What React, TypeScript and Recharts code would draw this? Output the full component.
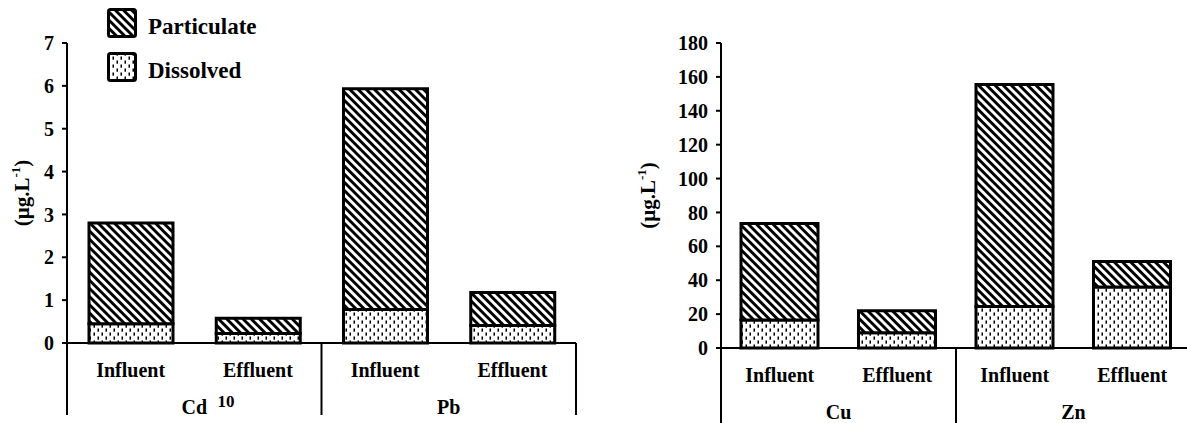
import { BarChart, Bar, XAxis, YAxis } from "recharts";

const samples = ["Influent", "Effluent", "Influent", "Effluent"];

const leftMetals = ["Cd", "Cd", "Pb", "Pb"];
const leftDissolved = [0.45, 0.22, 0.78, 0.41];
const leftParticulate = [2.35, 0.36, 5.15, 0.77];
const leftTicks = [0, 1, 2, 3, 4, 5, 6, 7];

const rightMetals = ["Cu", "Cu", "Zn", "Zn"];
const rightDissolved = [16.5, 9, 24.5, 36];
const rightParticulate = [57, 13, 131, 15];
const rightTicks = [0, 20, 40, 60, 80, 100, 120, 140, 160, 180];

const legendItems = [
  { key: "particulate", label: "Particulate", fill: "url(#hatch)" },
  { key: "dissolved", label: "Dissolved", fill: "url(#dots)" },
];

const FONT = '"Liberation Serif", "Times New Roman", serif';
const axisStroke = { stroke: "#000", strokeWidth: 2 };

const buildRows = (metals: string[], dissolved: number[], particulate: number[]) =>
  samples.map((s, i) => ({ sample: s, metal: metals[i], dissolved: dissolved[i], particulate: particulate[i] }));

const makeXTick =
  (metals: string[], band: number, plotBottom: number, sepBottom: number, sampleY: number, groupY: number) =>
  (props: any) => {
    const { x, index, payload } = props;
    const first = index === 0 || metals[index] !== metals[index - 1];
    const last = index === metals.length - 1;
    const txt = { fontFamily: FONT, fontSize: 20, fontWeight: 700, fill: "#000" };
    return (
      <g>
        <text x={x} y={sampleY} textAnchor="middle" dominantBaseline="central" {...txt}>
          {payload.value}
        </text>
        {first && <line x1={x - band / 2} x2={x - band / 2} y1={plotBottom} y2={sepBottom} {...axisStroke} />}
        {first && (
          <text x={x + band / 2} y={groupY} textAnchor="middle" dominantBaseline="central" {...txt}>
            {metals[index]}
          </text>
        )}
        {last && <line x1={x + band / 2} x2={x + band / 2} y1={plotBottom} y2={sepBottom} {...axisStroke} />}
      </g>
    );
  };

const UnitLabel = ({ cx, cy }: { cx: number; cy: number }) => (
  <text
    x={cx}
    y={cy}
    transform={`rotate(-90, ${cx}, ${cy})`}
    textAnchor="middle"
    dominantBaseline="central"
    fontFamily={FONT}
    fontSize={21}
    fontWeight={700}
    fill="#000"
  >
    (µg.L
    <tspan dy={-7} fontSize={13}>
      -1
    </tspan>
    <tspan dy={7}>)</tspan>
  </text>
);

type PanelProps = {
  left: number;
  metals: string[];
  dissolved: number[];
  particulate: number[];
  ticks: number[];
  yAxisWidth: number;
  marginRight: number;
  xAxisHeight: number;
  barSize: number;
  labelX: number;
  sepBottom: number;
};

const WIDTH = 600;
const HEIGHT = 423;
const TOP = 43;

const Panel = (p: PanelProps) => {
  const plotBottom = HEIGHT - p.xAxisHeight;
  const band = (WIDTH - p.yAxisWidth - p.marginRight) / samples.length;
  const tick = makeXTick(p.metals, band, plotBottom, p.sepBottom, plotBottom + 27, plotBottom + 64);
  return (
    <div style={{ position: "absolute", left: p.left, top: 0 }}>
      <BarChart
        width={WIDTH}
        height={HEIGHT}
        data={buildRows(p.metals, p.dissolved, p.particulate)}
        margin={{ top: TOP, right: p.marginRight, bottom: 0, left: 0 }}
      >
        <XAxis
          dataKey="sample"
          height={p.xAxisHeight}
          interval={0}
          axisLine={axisStroke}
          tickLine={false}
          tick={tick}
        />
        <YAxis
          width={p.yAxisWidth}
          domain={[0, p.ticks[p.ticks.length - 1]]}
          ticks={p.ticks}
          interval={0}
          tickSize={5}
          tickMargin={8}
          axisLine={axisStroke}
          tickLine={axisStroke}
          tick={{ fill: "#000", fontSize: 20, fontWeight: 700, fontFamily: FONT }}
          label={{
            content: (lp: any) => (
              <UnitLabel cx={p.labelX} cy={lp.viewBox.y + lp.viewBox.height / 2} />
            ),
          }}
        />
        <Bar
          dataKey="dissolved"
          stackId="a"
          barSize={p.barSize}
          fill="url(#dots)"
          stroke="#000"
          strokeWidth={3}
          isAnimationActive={false}
        />
        <Bar
          dataKey="particulate"
          stackId="a"
          barSize={p.barSize}
          fill="url(#hatch)"
          stroke="#000"
          strokeWidth={3}
          isAnimationActive={false}
        />
      </BarChart>
    </div>
  );
};

export default function App() {
  return (
    <div
      style={{
        position: "absolute",
        left: 0,
        top: 0,
        width: 1187,
        height: 423,
        overflow: "hidden",
        background: "#fff",
      }}
    >
      <svg width={0} height={0} style={{ position: "absolute" }}>
        <defs>
          <pattern id="hatch" patternUnits="userSpaceOnUse" width={5.8} height={5.8} patternTransform="rotate(45)">
            <rect width={5.8} height={5.8} fill="#fff" />
            <rect width={5.8} height={2.9} fill="#000" />
          </pattern>
          <pattern id="dots" patternUnits="userSpaceOnUse" width={8} height={8}>
            <rect width={8} height={8} fill="#fff" />
            <rect x={1.5} y={0.5} width={1.5} height={3.2} fill="#000" />
            <rect x={5.5} y={4.5} width={1.5} height={3.2} fill="#000" />
          </pattern>
        </defs>
      </svg>

      <Panel
        left={0}
        metals={leftMetals}
        dissolved={leftDissolved}
        particulate={leftParticulate}
        ticks={leftTicks}
        yAxisWidth={67}
        marginRight={24}
        xAxisHeight={80}
        barSize={84}
        labelX={22}
        sepBottom={415}
      />
      <Panel
        left={600}
        metals={rightMetals}
        dissolved={rightDissolved}
        particulate={rightParticulate}
        ticks={rightTicks}
        yAxisWidth={121}
        marginRight={9}
        xAxisHeight={75}
        barSize={77}
        labelX={48}
        sepBottom={423}
      />

      <div
        style={{
          position: "absolute",
          left: 226,
          top: 392,
          fontFamily: FONT,
          fontSize: 17,
          fontWeight: 700,
          transform: "translateX(-50%)",
        }}
      >
        10
      </div>

      <div style={{ position: "absolute", left: 107, top: 8, fontFamily: FONT }}>
        {legendItems.map((it) => (
          <div key={it.key} style={{ display: "flex", alignItems: "center", height: 30, marginBottom: 14 }}>
            <svg width={30} height={30}>
              <rect x={1.5} y={1.5} width={27} height={27} rx={2} fill={it.fill} stroke="#000" strokeWidth={3} />
            </svg>
            <span style={{ marginLeft: 11, fontSize: 23, fontWeight: 700, position: "relative", top: 4 }}>
              {it.label}
            </span>
          </div>
        ))}
      </div>
    </div>
  );
}
